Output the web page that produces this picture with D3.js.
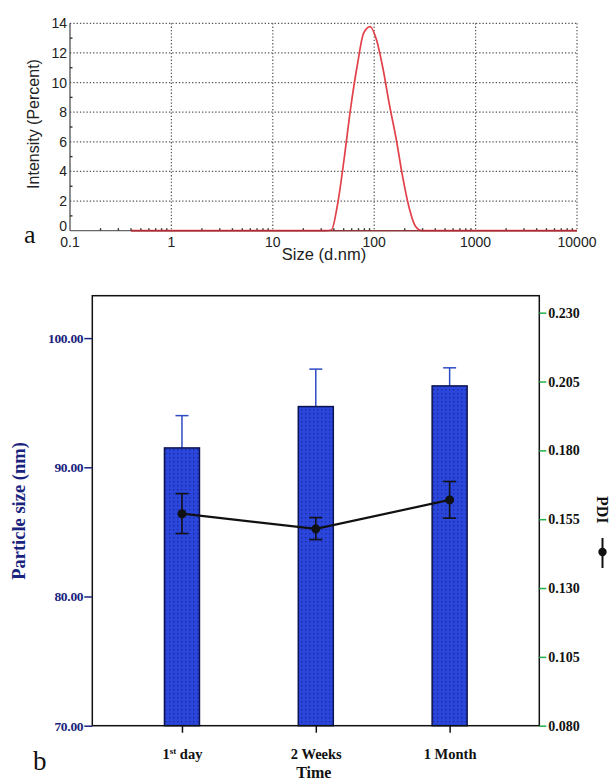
<!DOCTYPE html>
<html>
<head>
<meta charset="utf-8">
<script src="https://cdn.jsdelivr.net/npm/d3@7"></script>
<style>
  body { margin: 0; background: #fff; }
  svg { display: block; }
</style>
</head>
<body>
<div id="chart"></div>
<script>
// DATA: size distribution (panel a)
const sizeNm = [0.4, 33.0, 37.84, 43.82, 50.75, 58.77, 68.06, 78.82, 91.28, 105.7, 122.4, 141.8, 164.2, 190.1, 220.2, 255.0, 295.3, 10000];
const intensity = [0, 0, 0.05, 1.9, 4.95, 8.35, 11.15, 13.35, 13.78, 12.85, 10.9, 8.45, 6.25, 3.7, 1.6, 0.3, 0, 0];
const sizeTicks = [0.1, 1, 10, 100, 1000, 10000];
const intensityTicks = [0, 2, 4, 6, 8, 10, 12, 14];

// DATA: stability (panel b)
const timePoints = ["1st day", "2 Weeks", "1 Month"];
const particleSize = [91.5, 94.7, 96.3];
const particleSizeErr = [2.5, 2.9, 1.4];
const pdi = [0.157, 0.1515, 0.162];
const pdiLow = [0.1498, 0.1476, 0.1554];
const pdiHigh = [0.1643, 0.1556, 0.1687];
const sizeAxisTicks = [70, 80, 90, 100];
const pdiAxisTicks = [0.080, 0.105, 0.130, 0.155, 0.180, 0.205, 0.230];

const svg = d3.select("#chart").append("svg")
    .attr("width", 613).attr("height", 781);

// ---------- PANEL A ----------
const a = { left: 70, right: 577, top: 23.3, bottom: 230.7 };
const xA = d3.scaleLog().domain([0.1, 10000]).range([a.left, a.right]);
const yA = d3.scaleLinear().domain([0, 14]).range([a.bottom, a.top]);
const sans = "'Liberation Sans', Arial, sans-serif";
const serif = "'Liberation Serif', 'Times New Roman', serif";

const gA = svg.append("g");

// grid
gA.selectAll(".hgrid").data(intensityTicks.slice(1)).enter().append("line")
    .attr("x1", a.left).attr("x2", a.right)
    .attr("y1", d => yA(d)).attr("y2", d => yA(d))
    .attr("stroke", "#555").attr("stroke-width", 1.2).attr("stroke-dasharray", "1.3,2");
gA.selectAll(".vgrid").data(sizeTicks.slice(1)).enter().append("line")
    .attr("x1", d => xA(d)).attr("x2", d => xA(d))
    .attr("y1", a.top).attr("y2", a.bottom)
    .attr("stroke", "#555").attr("stroke-width", 1.2).attr("stroke-dasharray", "1.3,2");

// axes lines
gA.append("line").attr("x1", a.left).attr("x2", a.left).attr("y1", a.top).attr("y2", a.bottom)
    .attr("stroke", "#444").attr("stroke-width", 1.2);
gA.append("line").attr("x1", a.left).attr("x2", a.right).attr("y1", a.bottom).attr("y2", a.bottom)
    .attr("stroke", "#666").attr("stroke-width", 1.2);

// minor ticks on x axis
const minorX = [];
sizeTicks.slice(0, -1).forEach(t => { for (let k = 2; k <= 9; k++) minorX.push(t * k); });
gA.selectAll(".mx").data(minorX).enter().append("line")
    .attr("x1", d => xA(d)).attr("x2", d => xA(d))
    .attr("y1", a.bottom).attr("y2", a.bottom - 2.5)
    .attr("stroke", "#333").attr("stroke-width", 1.4);
// minor ticks on y axis
gA.selectAll(".my").data([1, 3, 5, 7, 9, 11, 13]).enter().append("line")
    .attr("x1", a.left).attr("x2", a.left + 2.5)
    .attr("y1", d => yA(d)).attr("y2", d => yA(d))
    .attr("stroke", "#333").attr("stroke-width", 1.4);

// curve (drawn over the axis so the flat red baseline shows)
const line = d3.line()
    .x((d, i) => xA(sizeNm[i]))
    .y(d => yA(d))
    .curve(d3.curveMonotoneX);
gA.append("path").datum(intensity)
    .attr("d", line)
    .attr("fill", "none").attr("stroke", "#e2404a").attr("stroke-width", 1.7);
gA.append("line").attr("x1", xA(sizeNm[0])).attr("x2", a.right).attr("y1", a.bottom).attr("y2", a.bottom)
    .attr("stroke", "#9b2a30").attr("stroke-width", 1.4).attr("opacity", 0.8);

// tick labels
gA.selectAll(".yl").data(intensityTicks).enter().append("text")
    .attr("x", a.left - 3).attr("y", d => d === 0 ? yA(d) : yA(d) + 5)
    .attr("text-anchor", "end").attr("font-family", sans).attr("font-size", 14)
    .attr("fill", "#222").text(d => d);
gA.selectAll(".xl").data(sizeTicks).enter().append("text")
    .attr("x", d => xA(d)).attr("y", a.bottom + 16)
    .attr("text-anchor", "middle").attr("font-family", sans).attr("font-size", 14)
    .attr("fill", "#222").text(d => d);

gA.append("text").attr("x", 324).attr("y", 260)
    .attr("text-anchor", "middle").attr("font-family", sans).attr("font-size", 16.5)
    .attr("fill", "#222").text("Size (d.nm)");
gA.append("text").attr("transform", `translate(39,${(a.top + a.bottom) / 2 - 3}) rotate(-90)`)
    .attr("text-anchor", "middle").attr("font-family", sans).attr("font-size", 16)
    .attr("fill", "#222").text("Intensity (Percent)");
gA.append("text").attr("x", 24).attr("y", 243)
    .attr("font-family", serif).attr("font-size", 26).attr("fill", "#111").text("a");

// ---------- PANEL B ----------
const b = { left: 92.3, right: 539.3, top: 295.7, bottom: 725.7 };
const navy = "#1a237e";
const xB = d3.scalePoint().domain(timePoints).range([b.left, b.right]).padding(0.67);
const yB = d3.scaleLinear().domain([70, 70 + (b.bottom - b.top) / 12.92]).range([b.bottom, b.top]);
const yP = d3.scaleLinear().domain([0.080, 0.230]).range([b.bottom, 312.7]);

const defs = svg.append("defs");
const pat = defs.append("pattern").attr("id", "dots")
    .attr("width", 4).attr("height", 4).attr("patternUnits", "userSpaceOnUse");
pat.append("rect").attr("width", 4).attr("height", 4).attr("fill", "#2a46dc");
pat.append("rect").attr("x", 1).attr("y", 1).attr("width", 1.4).attr("height", 1.4).attr("fill", "#1a2a9c");

const gB = svg.append("g");
const barW = 35;

// bar error bars (upper only)
gB.selectAll(".be").data(timePoints).enter().append("line")
    .attr("x1", d => xB(d)).attr("x2", d => xB(d))
    .attr("y1", (d, i) => yB(particleSize[i])).attr("y2", (d, i) => yB(particleSize[i] + particleSizeErr[i]))
    .attr("stroke", "#2f4bc4").attr("stroke-width", 1.5);
gB.selectAll(".bc").data(timePoints).enter().append("line")
    .attr("x1", d => xB(d) - 6.5).attr("x2", d => xB(d) + 6.5)
    .attr("y1", (d, i) => yB(particleSize[i] + particleSizeErr[i])).attr("y2", (d, i) => yB(particleSize[i] + particleSizeErr[i]))
    .attr("stroke", "#2f4bc4").attr("stroke-width", 1.5);

// bars
gB.selectAll(".bar").data(timePoints).enter().append("rect")
    .attr("x", d => xB(d) - barW / 2).attr("width", barW)
    .attr("y", (d, i) => yB(particleSize[i]))
    .attr("height", (d, i) => b.bottom - yB(particleSize[i]))
    .attr("fill", "url(#dots)").attr("stroke", "#0c1450").attr("stroke-width", 1.5);

// frame
gB.append("rect").attr("x", b.left).attr("y", b.top)
    .attr("width", b.right - b.left).attr("height", b.bottom - b.top)
    .attr("fill", "none").attr("stroke", "#111").attr("stroke-width", 1.5);

// PDI line + error bars
const pdiLine = d3.line().x((d, i) => xB(timePoints[i])).y(d => yP(d));
gB.append("path").datum(pdi).attr("d", pdiLine)
    .attr("fill", "none").attr("stroke", "#111").attr("stroke-width", 2.2);
timePoints.forEach((t, i) => {
    const x = xB(t);
    gB.append("line").attr("x1", x).attr("x2", x).attr("y1", yP(pdiLow[i])).attr("y2", yP(pdiHigh[i]))
        .attr("stroke", "#111").attr("stroke-width", 1.6);
    [pdiLow[i], pdiHigh[i]].forEach(v => {
        gB.append("line").attr("x1", x - 6.5).attr("x2", x + 6.5).attr("y1", yP(v)).attr("y2", yP(v))
            .attr("stroke", "#111").attr("stroke-width", 1.6);
    });
});
gB.selectAll(".pt").data(pdi).enter().append("circle")
    .attr("cx", (d, i) => xB(timePoints[i])).attr("cy", d => yP(d)).attr("r", 4.5)
    .attr("fill", "#111");

// left axis
const leftAxis = gB.append("g").attr("transform", `translate(${b.left},0)`)
    .call(d3.axisLeft(yB).tickValues(sizeAxisTicks).tickFormat(d3.format(".2f")).tickSize(8).tickPadding(1));
leftAxis.select(".domain").remove();
leftAxis.selectAll("line").attr("stroke", navy).attr("stroke-width", 1.5);
leftAxis.selectAll("text").attr("fill", navy).attr("font-family", serif)
    .attr("font-weight", "bold").attr("font-size", 13.5).attr("letter-spacing", -0.3);

// right axis
const rightAxis = gB.append("g").attr("transform", `translate(${b.right},0)`)
    .call(d3.axisRight(yP).tickValues(pdiAxisTicks).tickFormat(d3.format(".3f")).tickSize(7).tickPadding(2));
rightAxis.select(".domain").remove();
rightAxis.selectAll("line").attr("stroke", "#22b04a").attr("stroke-width", 1.5);
rightAxis.selectAll("text").attr("fill", "#111").attr("font-family", serif)
    .attr("font-weight", "bold").attr("font-size", 14);

// bottom axis
const bottomAxis = gB.append("g").attr("transform", `translate(0,${b.bottom})`)
    .call(d3.axisBottom(xB).tickSize(7).tickFormat(""));
bottomAxis.select(".domain").remove();
bottomAxis.selectAll("line").attr("stroke", "#111").attr("stroke-width", 1.5);
bottomAxis.selectAll(".tick").append("text")
    .attr("y", 33).attr("text-anchor", "middle").attr("fill", "#111")
    .attr("font-family", serif).attr("font-weight", "bold").attr("font-size", 14.5)
    .each(function (d) {
        const t = d3.select(this);
        if (d === "1st day") {
            t.append("tspan").text("1");
            t.append("tspan").attr("font-size", 9).attr("dy", -5).text("st");
            t.append("tspan").attr("dy", 5).text(" day");
        } else {
            t.text(d);
        }
    });

// axis titles
gB.append("text").attr("x", (b.left + b.right) / 2 - 2).attr("y", 777.5)
    .attr("text-anchor", "middle").attr("font-family", serif).attr("font-weight", "bold")
    .attr("font-size", 16).attr("fill", "#111").text("Time");
gB.append("text").attr("transform", `translate(25,511) rotate(-90)`)
    .attr("text-anchor", "middle").attr("font-family", serif).attr("font-weight", "bold")
    .attr("font-size", 18.5).attr("fill", navy).text("Particle size (nm)");

const legend = gB.append("g").attr("transform", "translate(597,496) rotate(90)");
legend.append("text").attr("x", 0).attr("y", 0)
    .attr("font-family", serif).attr("font-weight", "bold").attr("font-size", 16)
    .attr("fill", "#111").text("PDI");
legend.append("line").attr("x1", 42).attr("x2", 72).attr("y1", -5.5).attr("y2", -5.5)
    .attr("stroke", "#111").attr("stroke-width", 2);
legend.append("circle").attr("cx", 56).attr("cy", -5.5).attr("r", 4.2).attr("fill", "#111");

gB.append("text").attr("x", 33).attr("y", 770)
    .attr("font-family", serif).attr("font-size", 27).attr("fill", "#111").text("b");
</script>
</body>
</html>
